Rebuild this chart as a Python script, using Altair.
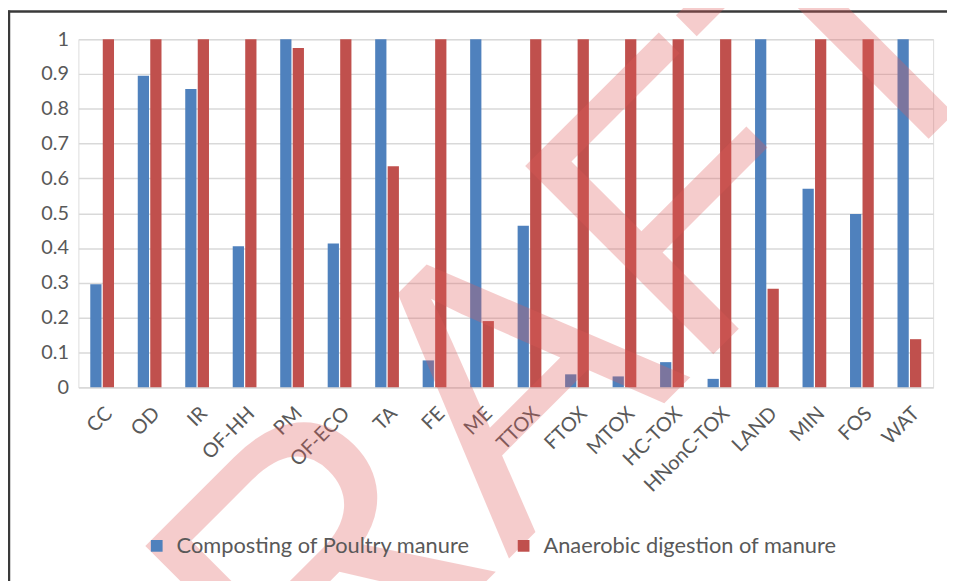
import altair as alt
import pandas as pd

categories = ["CC", "OD", "IR", "OF-HH", "PM", "OF-ECO", "TA", "FE", "ME", "TTOX",
              "FTOX", "MTOX", "HC-TOX", "HNonC-TOX", "LAND", "MIN", "FOS", "WAT"]
composting = [0.296, 0.895, 0.857, 0.405, 1.0, 0.413, 1.0, 0.077, 1.0, 0.464,
              0.037, 0.031, 0.072, 0.024, 1.0, 0.570, 0.498, 1.0]
anaerobic = [1.0, 1.0, 1.0, 1.0, 0.975, 1.0, 0.635, 1.0, 0.190, 1.0,
             1.0, 1.0, 1.0, 1.0, 0.283, 1.0, 1.0, 0.138]
series_names = ["Composting of Poultry manure", "Anaerobic digestion of manure"]
series_colors = ["#4F81BD", "#C0504D"]
watermark = ["DRAFT"]

rows = []
for c, a, b in zip(categories, composting, anaerobic):
    rows.append({"cat": c, "series": series_names[0], "value": a})
    rows.append({"cat": c, "series": series_names[1], "value": b})
df = pd.DataFrame(rows)

W, H = 862, 351
FONT = "Lato"

bars = alt.Chart(df).mark_bar().encode(
    x=alt.X("cat:N", sort=categories, title=None,
            scale=alt.Scale(paddingInner=0.5, paddingOuter=0.25),
            axis=alt.Axis(labelAngle=-45, labelFontSize=20, labelColor="#595959",
                          labelFont=FONT, ticks=False, domainColor="#D9D9D9",
                          domainWidth=1.5, labelPadding=16)),
    xOffset=alt.XOffset("series:N", sort=series_names,
                        scale=alt.Scale(paddingInner=0.1, paddingOuter=0)),
    y=alt.Y("value:Q", title=None,
            scale=alt.Scale(domain=[0, 1], nice=False),
            axis=alt.Axis(values=[i / 10 for i in range(11)], format=".1~f",
                          labelFontSize=20, labelColor="#595959", labelFont=FONT,
                          ticks=False, domain=False, gridColor="#D9D9D9",
                          gridWidth=1.5, labelPadding=10)),
    color=alt.Color("series:N", sort=series_names,
                    scale=alt.Scale(domain=series_names, range=series_colors),
                    legend=alt.Legend(title=None, orient="none", legendX=68, legendY=500,
                                      direction="horizontal", symbolType="square",
                                      symbolSize=140, symbolStrokeWidth=0,
                                      labelFontSize=22, labelColor="#595959",
                                      labelFont=FONT, labelOffset=9,
                                      columnPadding=42, labelLimit=400)),
)

frame_left = alt.Chart(pd.DataFrame({"k": [0]})).mark_rule(
    color="#3A3A3A", strokeWidth=2.5).encode(
    x=alt.value(-70), y=alt.value(-29), y2=alt.value(600))
frame_top = alt.Chart(pd.DataFrame({"k": [0]})).mark_rule(
    color="#3A3A3A", strokeWidth=2.5).encode(
    y=alt.value(-28), x=alt.value(-71), x2=alt.value(900))

wm = alt.Chart(pd.DataFrame({"w": watermark})).mark_text(
    fontSize=390, angle=315, font="Liberation Sans", color="#E05A5A",
    opacity=0.3, align="center", baseline="alphabetic").encode(
    text="w:N", x=alt.value(495), y=alt.value(463))

chart = alt.layer(bars, frame_left, frame_top, wm).properties(
    width=W, height=H,
    autosize=alt.AutoSizeParams(type="none"),
    padding={"left": 71, "top": 29, "right": 14, "bottom": 193},
).configure_view(stroke=None).configure(background="white")

chart.save("out.html", embed_options={"renderer": "svg", "actions": False})
